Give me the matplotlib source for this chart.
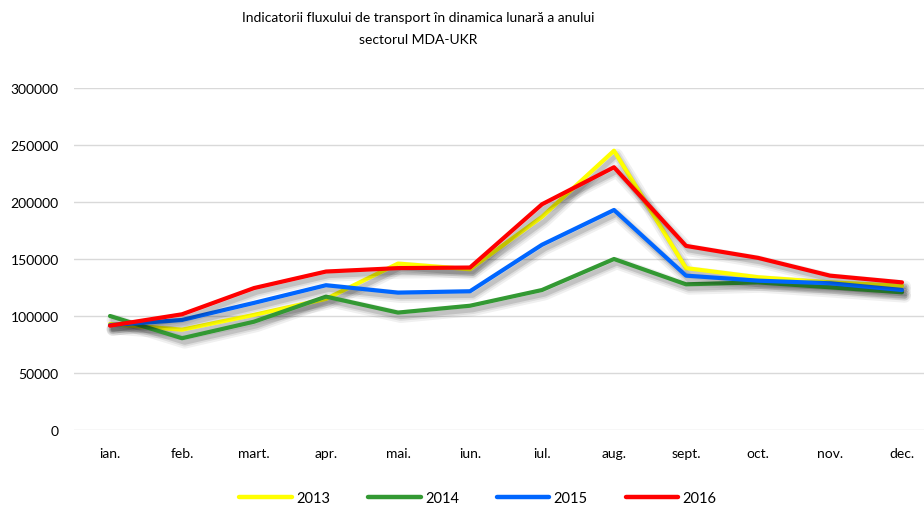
import matplotlib.pyplot as plt
import matplotlib.patheffects as pe

months = ["ian.", "feb.", "mart.", "apr.", "mai.", "iun.", "iul.", "aug.",
          "sept.", "oct.", "nov.", "dec."]
y2013 = [93000, 88000, 101000, 115000, 146000, 141000, 187000, 245000,
         142000, 134000, 129500, 126500]
y2014 = [100000, 80500, 95000, 117000, 103000, 109000, 122800, 150000,
         127800, 129500, 125200, 120800]
y2015 = [92000, 96500, 111500, 127000, 120500, 121700, 162500, 193000,
         135400, 131000, 128700, 122800]
y2016 = [91500, 101500, 124500, 139000, 142000, 142500, 198000, 230500,
         161500, 151000, 135400, 129500]

series = [("2013", y2013, "#ffff00"), ("2014", y2014, "#339933"),
          ("2015", y2015, "#0066ff"), ("2016", y2016, "#ff0000")]

plt.rcParams["font.family"] = ["Lato", "DejaVu Sans"]

fig = plt.figure(figsize=(9.24, 5.06), dpi=100)
ax = fig.add_axes([74 / 924, (506 - 431) / 506, 864 / 924, 342 / 506])

shadow = [pe.SimpleLineShadow(offset=(2, -3), shadow_color="#000000", alpha=0.06, linewidth=9),
          pe.SimpleLineShadow(offset=(2, -3), shadow_color="#000000", alpha=0.08, linewidth=6),
          pe.SimpleLineShadow(offset=(2, -3), shadow_color="#000000", alpha=0.12, linewidth=3.5),
          pe.Normal()]

x = list(range(len(months)))
for name, vals, col in series:
    ax.plot(x, vals, color=col, lw=3, label=name, solid_capstyle="round",
            path_effects=shadow)

ax.set_xlim(-0.5, len(months) - 0.5)
ax.set_ylim(0, 300000)
ax.set_yticks(range(0, 300001, 50000))
ax.set_yticklabels([str(v) for v in range(0, 300001, 50000)])
ax.set_xticks(x)
ax.set_xticklabels(months)
ax.tick_params(length=0, labelsize=10, colors="#000000")
ax.tick_params(axis="y", pad=11)
ax.tick_params(axis="x", pad=12)
ax.grid(axis="y", color="#d9d9d9", lw=1)
ax.set_axisbelow(True)
for s in ax.spines.values():
    s.set_visible(False)

fig.text(418 / 924, 1 - 18 / 506, "Indicatorii fluxului de transport în dinamica lunară a anului",
         ha="center", va="center", fontsize=10)
fig.text(418 / 924, 1 - 40 / 506, "sectorul MDA-UKR", ha="center", va="center", fontsize=10)

handles = [plt.Line2D([], [], color=c, lw=3.2, solid_capstyle="round") for _, _, c in series]
fig.legend(handles, [n for n, _, _ in series], loc="center", bbox_to_anchor=(478 / 924, 1 - 499 / 506),
           ncol=4, frameon=False, fontsize=10.5, handlelength=3.6, handletextpad=0.3,
           columnspacing=2.6)

fig.savefig("out.png", dpi=100)
